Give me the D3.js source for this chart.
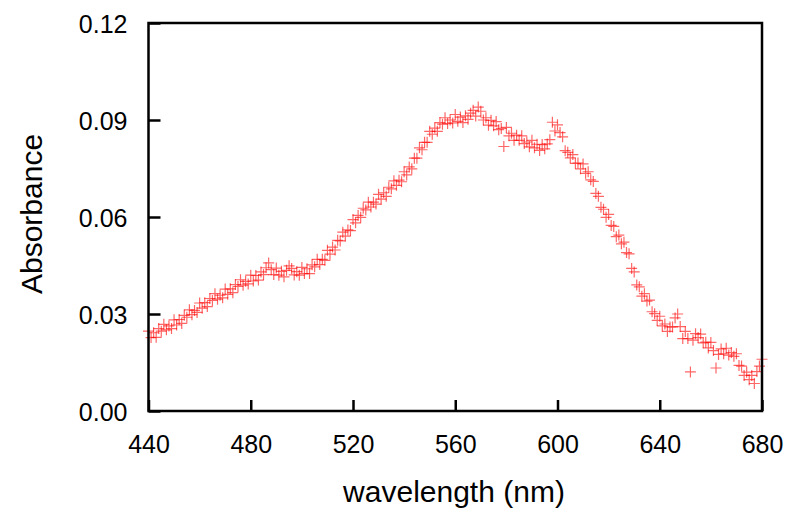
<!DOCTYPE html>
<html>
<head>
<meta charset="utf-8">
<script src="https://cdn.jsdelivr.net/npm/d3@7/dist/d3.min.js"></script>
<style>
html,body{margin:0;padding:0;background:#fff;}
svg{display:block;font-family:"Liberation Sans",Arial,sans-serif;}
</style>
</head>
<body>
<svg id="chart" width="800" height="527"></svg>
<script>
const wavelengths = [
440,441,442,443,444,445,446,447,448,449,450,451,452,453,454,455,456,457,458,459,
460,461,462,463,464,465,466,467,468,469,470,471,472,473,474,475,476,477,478,479,
480,481,482,483,484,485,486,487,488,489,490,491,492,493,494,495,496,497,498,499,
500,501,502,503,504,505,506,507,508,509,510,511,512,513,514,515,516,517,518,519,
520,521,522,523,524,525,526,527,528,529,530,531,532,533,534,535,536,537,538,539,
540,541,542,543,544,545,546,547,548,549,550,551,552,553,554,555,556,557,558,559,
560,561,562,563,564,565,566,567,568,569,570,571,572,573,574,575,576,577,578,579,
580,581,582,583,584,585,586,587,588,589,590,591,592,593,594,595,596,597,598,599,
600,601,602,603,604,605,606,607,608,609,610,611,612,613,614,615,616,617,618,619,
620,621,622,623,624,625,626,627,628,629,630,631,632,633,634,635,636,637,638,639,
640,641,642,643,644,645,646,647,648,649,650,651,652,653,654,655,656,657,658,659,
660,661,662,663,664,665,666,667,668,669,670,671,672,673,674,675,676,677,678,679,
680];
const absorbance = [
0.0247,0.0227,0.0242,0.0228,0.0255,0.0247,0.0268,0.0251,0.0263,0.0255,
0.0282,0.0266,0.0283,0.0271,0.0296,0.0290,0.0313,0.0298,0.0311,0.0305,
0.0334,0.0318,0.0335,0.0323,0.0348,0.0342,0.0363,0.0346,0.0358,0.0350,
0.0377,0.0361,0.0378,0.0366,0.0391,0.0385,0.0406,0.0389,0.0401,0.0393,
0.0420,0.0402,0.0419,0.0405,0.0430,0.0422,0.0443,0.0458,0.0437,0.0422,
0.0442,0.0420,0.0432,0.0415,0.0435,0.0449,0.0441,0.0421,0.0431,0.0420,
0.0444,0.0425,0.0440,0.0425,0.0452,0.0446,0.0469,0.0453,0.0469,0.0466,
0.0497,0.0485,0.0507,0.0498,0.0528,0.0526,0.0553,0.0541,0.0560,0.0558,
0.0592,0.0582,0.0605,0.0599,0.0627,0.0622,0.0646,0.0631,0.0646,0.0640,
0.0670,0.0655,0.0675,0.0664,0.0692,0.0687,0.0712,0.0698,0.0714,0.0709,
0.0740,0.0730,0.0755,0.0749,0.0782,0.0782,0.0814,0.0808,0.0831,0.0831,
0.0865,0.0856,0.0875,0.0865,0.0892,0.0887,0.0907,0.0889,0.0900,0.0891,
0.0917,0.0896,0.0909,0.0892,0.0913,0.0902,0.0921,0.0930,0.0912,0.0940,
0.0927,0.0900,0.0907,0.0884,0.0899,0.0882,0.0895,0.0870,0.0874,0.0818,
0.0877,0.0851,0.0859,0.0837,0.0853,0.0837,0.0851,0.0827,0.0832,0.0817,
0.0837,0.0814,0.0825,0.0806,0.0824,0.0811,0.0826,0.0839,0.0893,0.0866,
0.0885,0.0861,0.0848,0.0805,0.0800,0.0783,0.0793,0.0766,0.0767,0.0749,
0.0764,0.0735,0.0740,0.0715,0.0710,0.0673,0.0664,0.0630,0.0624,0.0599,
0.0608,0.0574,0.0571,0.0539,0.0544,0.0517,0.0522,0.0490,0.0486,0.0441,
0.0430,0.0390,0.0384,0.0355,0.0363,0.0340,0.0343,0.0307,0.0301,0.0280,
0.0293,0.0263,0.0269,0.0246,0.0260,0.0260,0.0288,0.0300,0.0261,0.0224,
0.0246,0.0224,0.0121,0.0219,0.0239,0.0227,0.0238,0.0211,0.0213,0.0195,
0.0212,0.0187,0.0133,0.0175,0.0192,0.0177,0.0194,0.0173,0.0181,0.0169,
0.0177,0.0141,0.0139,0.0110,0.0120,0.0097,0.0110,0.0085,0.0122,0.0139,
0.0160];
const xTicks = [440, 480, 520, 560, 600, 640, 680];
const yTicks = [0.00, 0.03, 0.06, 0.09, 0.12];
const xTitle = "wavelength (nm)";
const yTitle = "Absorbance";

const svg = d3.select("#chart");
const L = 148.5, R = 762, T = 23, B = 411;
const x = d3.scaleLinear().domain([440, 680]).range([L, R]);
const y = d3.scaleLinear().domain([0, 0.12]).range([B, T]);

// data crosses
const g = svg.append("g");
const s = 5.5;
const pts = wavelengths.map((w, i) => [w, absorbance[i]]);
g.selectAll("path.pt").data(pts).enter().append("path")
  .attr("class", "pt")
  .attr("d", d => {
    const cx = x(d[0]), cy = y(d[1]);
    return `M${cx - s},${cy}H${cx + s}M${cx},${cy - s}V${cy + s}`;
  })
  .attr("stroke", "#ff0000")
  .attr("stroke-opacity", 0.6)
  .attr("stroke-width", 1.2)
  .attr("fill", "none");

// frame
svg.append("rect")
  .attr("x", L).attr("y", T).attr("width", R - L).attr("height", B - T)
  .attr("fill", "none").attr("stroke", "#000").attr("stroke-width", 2.5);

// x axis (ticks inward)
const xAxis = d3.axisBottom(x).tickValues(xTicks).tickSize(-11).tickPadding(24)
  .tickFormat(d3.format("d"));
const gx = svg.append("g").attr("transform", `translate(0,${B})`).call(xAxis);
gx.select(".domain").remove();
gx.selectAll(".tick line").attr("stroke", "#000").attr("stroke-width", 2.5);
gx.selectAll(".tick text").attr("font-size", 25).attr("fill", "#000")
  .attr("font-family", "Liberation Sans, Arial, sans-serif");

// y axis (ticks inward)
const yAxis = d3.axisLeft(y).tickValues(yTicks).tickSize(-12).tickPadding(21)
  .tickFormat(d3.format(".2f"));
const gy = svg.append("g").attr("transform", `translate(${L},0)`).call(yAxis);
gy.select(".domain").remove();
gy.selectAll(".tick line").attr("stroke", "#000").attr("stroke-width", 2.5);
gy.selectAll(".tick text").attr("font-size", 25).attr("fill", "#000")
  .attr("font-family", "Liberation Sans, Arial, sans-serif").attr("dy", "0.36em");

// titles
svg.append("text").attr("x", 454).attr("y", 502).attr("text-anchor", "middle")
  .attr("font-size", 30).attr("fill", "#000").text(xTitle);
svg.append("text").attr("transform", "translate(42,214) rotate(-90)")
  .attr("text-anchor", "middle").attr("font-size", 30).attr("fill", "#000").text(yTitle);
</script>
</body>
</html>
